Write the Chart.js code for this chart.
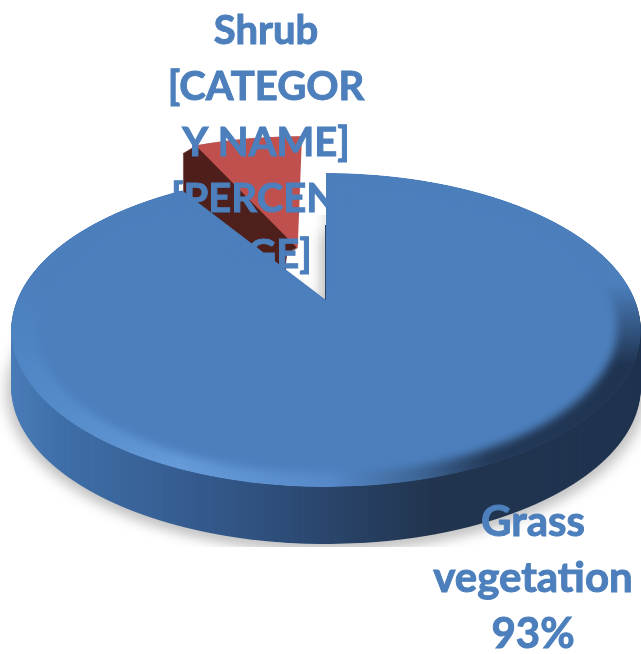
<!DOCTYPE html>
<html>
<head>
<meta charset="utf-8">
<title>Vegetation share</title>
<style>
  html, body { margin: 0; padding: 0; background: #fff; }
  canvas { display: block; }
</style>
<script src="https://cdn.jsdelivr.net/npm/chart.js@4"></script>
</head>
<body>
<canvas id="pie" width="641" height="654"></canvas>
<script>
const categories = ['Grass vegetation', 'Shrub'];
const values = [93, 7];
const sliceColors = ['#4c7fbc', '#c0504d'];
const labelLines = [
  ['Grass', 'vegetation', '93%'],
  ['Shrub', '[CATEGOR', 'Y NAME]', '[PERCENT', 'AGE]']
];

const W = 641, H = 654;

// perspective of the pie plane, measured on the picture
const apexX = 326, apexY = 300, viewA = 309, viewB = 151.3, viewK = 0.191;
const depth = 57;
const sliceLiftU = [0, -0.098];           // explode distance, in radii
const sliceLiftV = [0, 0.364];
const sliceTrim = [7.5 * Math.PI / 180, 0]; // grass slice is cut a bit wider than 7%

function layer() {
  const c = document.createElement('canvas');
  c.width = W;
  c.height = H;
  return c;
}

// draws one arc row by row so the flat circle comes out in perspective
function paintMask(arc, liftU, liftV, trim) {
  const c = layer();
  const ctx = c.getContext('2d');
  const R = arc.outerRadius;
  const endAngle = arc.endAngle, circumference = arc.circumference;
  arc.endAngle = endAngle - trim;
  arc.circumference = circumference - trim;
  for (let row = 100; row < 500; row++) {
    const d = row + 0.5 - apexY;
    const v = -d / (viewB + viewK * d);
    const w = 1 + viewK * v;
    if (w <= 0.2) continue;
    const sx = viewA / (w * R);
    const sy = viewB / (w * w * R);
    ctx.save();
    ctx.beginPath();
    ctx.rect(0, row, W, 1);
    ctx.clip();
    ctx.transform(sx, 0, 0, sy, apexX + (liftU * R - arc.x) * sx, row + 0.5 - (arc.y - (v - liftV) * R) * sy);
    arc.draw(ctx);
    ctx.restore();
  }
  arc.endAngle = endAngle;
  arc.circumference = circumference;
  return c;
}

function tint(mask, fill) {
  const c = layer();
  const ctx = c.getContext('2d');
  ctx.drawImage(mask, 0, 0);
  ctx.globalCompositeOperation = 'source-in';
  ctx.fillStyle = fill;
  ctx.fillRect(0, 0, W, H);
  return c;
}

function hGradient(ctx, stops) {
  const g = ctx.createLinearGradient(0, 0, W, 0);
  stops.forEach(s => g.addColorStop(s[0] / W, s[1]));
  return g;
}

function drawGrass(ctx, mask) {
  // soft ground shadow, cut off flat under the pie like the original
  ctx.save();
  ctx.beginPath();
  ctx.rect(0, 0, W, 547);
  ctx.clip();
  ctx.filter = 'blur(7px)';
  const shade = tint(mask, '#c4c4c4');
  ctx.drawImage(shade, -5, depth + 4);
  ctx.drawImage(shade, 6, depth + 4);
  ctx.filter = 'blur(4px)';
  ctx.beginPath();
  ctx.rect(300, 215, 30, 90);
  ctx.clip();
  ctx.globalAlpha = 0.4;
  ctx.drawImage(shade, -4, 0);
  ctx.restore();

  // outer wall
  const wall = tint(mask, hGradient(ctx, [
    [12, '#4a7cb8'], [60, '#3f6fa8'], [170, '#375f94'], [300, '#2c4a74'],
    [430, '#22354f'], [641, '#1f3350']
  ]));
  for (let i = depth; i > 0; i--) ctx.drawImage(wall, 0, i);

  // thin dark edge of the cut
  ctx.save();
  ctx.beginPath();
  ctx.rect(318, 225, 10, 80);
  ctx.clip();
  ctx.drawImage(wall, -1, 0);
  ctx.restore();

  // top face with its rounded rim
  const top = layer();
  const t = top.getContext('2d');
  t.drawImage(tint(mask, sliceColors[0]), 0, 0);
  const rim = tint(mask, hGradient(t, [
    [12, '#4f85c4'], [180, '#669ad8'], [330, '#5689c9'], [420, '#3d6596'],
    [490, '#243a58'], [641, '#1f3350']
  ]));
  const rimCtx = rim.getContext('2d');
  const fade = rimCtx.createLinearGradient(0, 285, 0, 365);
  fade.addColorStop(0, 'rgba(0,0,0,0)');
  fade.addColorStop(1, 'rgba(0,0,0,1)');
  rimCtx.globalCompositeOperation = 'destination-in';
  rimCtx.fillStyle = fade;
  rimCtx.fillRect(0, 0, W, H);
  t.drawImage(rim, 0, 0);
  t.save();
  t.filter = 'blur(4px)';
  t.translate(apexX, apexY);
  t.scale(0.925, 0.925);
  t.translate(-apexX, -apexY);
  t.drawImage(tint(mask, sliceColors[0]), 0, 0);
  t.restore();
  t.globalCompositeOperation = 'destination-in';
  t.drawImage(mask, 0, 0);
  ctx.drawImage(top, 0, 0);
}

function drawShrub(ctx, mask) {
  const wall = tint(mask, '#4f1f1c');
  for (let i = 1; i <= 13; i++) ctx.drawImage(wall, -i, i * 0.6);
  for (let i = 8; i <= 50; i++) ctx.drawImage(wall, -13, i);
  ctx.drawImage(tint(mask, sliceColors[1]), 0, 0);
}

const pie3d = {
  id: 'pie3d',
  beforeDatasetDraw(chart) {
    const ctx = chart.ctx;
    const arcs = chart.getDatasetMeta(0).data;
    drawShrub(ctx, paintMask(arcs[1], sliceLiftU[1], sliceLiftV[1], sliceTrim[1]));
    drawGrass(ctx, paintMask(arcs[0], sliceLiftU[0], sliceLiftV[0], sliceTrim[0]));
    return false;
  },
  afterDraw(chart) {
    const ctx = chart.ctx;
    const labelX = [533, 266];
    const firstBase = [536, 44];
    const fontSize = [42, 40];
    ctx.save();
    ctx.fillStyle = sliceColors[0];
    ctx.strokeStyle = sliceColors[0];
    ctx.lineWidth = 1;
    ctx.textAlign = 'center';
    ctx.textBaseline = 'alphabetic';
    labelLines.forEach((lines, i) => {
      ctx.font = 'bold ' + fontSize[i] + 'px Lato';
      lines.forEach((line, j) => {
        ctx.fillText(line, labelX[i], firstBase[i] + j * 56);
        ctx.strokeText(line, labelX[i], firstBase[i] + j * 56);
      });
    });
    ctx.restore();
  }
};

new Chart(document.getElementById('pie'), {
  type: 'pie',
  data: {
    labels: categories,
    datasets: [{
      data: values,
      backgroundColor: sliceColors,
      borderWidth: 0
    }]
  },
  options: {
    responsive: false,
    animation: false,
    plugins: {
      legend: { display: false },
      tooltip: { enabled: false }
    }
  },
  plugins: [pie3d]
});
</script>
</body>
</html>
